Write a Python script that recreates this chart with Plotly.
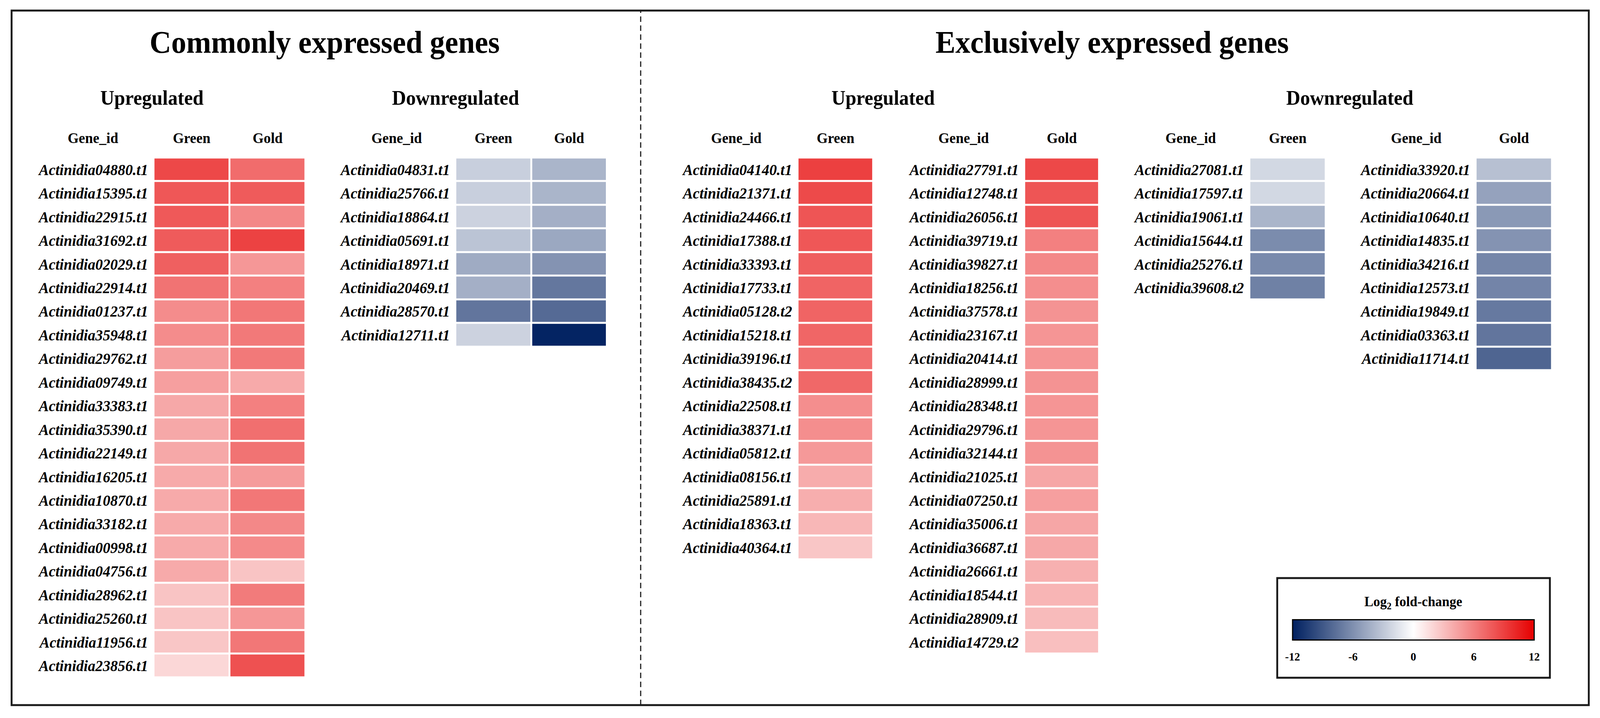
import plotly.graph_objects as go

W, H = 4278, 1837
FONT = "Liberation Serif"

# ---------------- data ----------------
common_up_genes = ["Actinidia04880.t1", "Actinidia15395.t1", "Actinidia22915.t1", "Actinidia31692.t1",
                   "Actinidia02029.t1", "Actinidia22914.t1", "Actinidia01237.t1", "Actinidia35948.t1",
                   "Actinidia29762.t1", "Actinidia09749.t1", "Actinidia33383.t1", "Actinidia35390.t1",
                   "Actinidia22149.t1", "Actinidia16205.t1", "Actinidia10870.t1", "Actinidia33182.t1",
                   "Actinidia00998.t1", "Actinidia04756.t1", "Actinidia28962.t1", "Actinidia25260.t1",
                   "Actinidia11956.t1", "Actinidia23856.t1"]
common_up_green = [8.6, 7.9, 7.8, 7.7, 7.5, 6.6, 5.4, 5.4, 4.6, 4.5, 4.1, 4.1, 4.1, 4.0, 4.0, 4.0,
                   4.0, 4.0, 2.8, 2.8, 2.7, 1.9]
common_up_gold = [6.9, 7.7, 5.6, 8.9, 4.9, 6.0, 6.4, 6.3, 6.3, 4.0, 6.0, 6.8, 6.6, 4.7, 6.4, 5.6,
                  5.5, 2.8, 6.2, 4.9, 6.4, 8.2]

common_down_genes = ["Actinidia04831.t1", "Actinidia25766.t1", "Actinidia18864.t1", "Actinidia05691.t1",
                     "Actinidia18971.t1", "Actinidia20469.t1", "Actinidia28570.t1", "Actinidia12711.t1"]
common_down_green = [-2.6, -2.6, -2.4, -3.2, -4.5, -4.3, -7.4, -2.4]
common_down_gold = [-4.0, -4.0, -4.3, -4.7, -5.8, -7.3, -8.0, -11.8]

excl_up_green_genes = ["Actinidia04140.t1", "Actinidia21371.t1", "Actinidia24466.t1", "Actinidia17388.t1",
                       "Actinidia33393.t1", "Actinidia17733.t1", "Actinidia05128.t2", "Actinidia15218.t1",
                       "Actinidia39196.t1", "Actinidia38435.t2", "Actinidia22508.t1", "Actinidia38371.t1",
                       "Actinidia05812.t1", "Actinidia08156.t1", "Actinidia25891.t1", "Actinidia18363.t1",
                       "Actinidia40364.t1"]
excl_up_green = [9.0, 8.5, 8.0, 7.9, 7.6, 7.3, 7.3, 7.2, 6.8, 7.1, 5.3, 5.3, 4.8, 3.9, 3.8, 3.4, 2.7]

excl_up_gold_genes = ["Actinidia27791.t1", "Actinidia12748.t1", "Actinidia26056.t1", "Actinidia39719.t1",
                      "Actinidia39827.t1", "Actinidia18256.t1", "Actinidia37578.t1", "Actinidia23167.t1",
                      "Actinidia20414.t1", "Actinidia28999.t1", "Actinidia28348.t1", "Actinidia29796.t1",
                      "Actinidia32144.t1", "Actinidia21025.t1", "Actinidia07250.t1", "Actinidia35006.t1",
                      "Actinidia36687.t1", "Actinidia26661.t1", "Actinidia18544.t1", "Actinidia28909.t1",
                      "Actinidia14729.t2"]
excl_up_gold = [8.6, 8.0, 8.0, 6.0, 5.6, 5.3, 5.1, 5.0, 5.0, 5.1, 5.0, 5.0, 5.1, 4.2, 4.5, 4.2,
                4.1, 3.7, 3.5, 3.2, 3.0]

excl_down_green_genes = ["Actinidia27081.t1", "Actinidia17597.t1", "Actinidia19061.t1", "Actinidia15644.t1",
                         "Actinidia25276.t1", "Actinidia39608.t2"]
excl_down_green = [-2.1, -2.1, -4.0, -6.2, -6.3, -6.8]

excl_down_gold_genes = ["Actinidia33920.t1", "Actinidia20664.t1", "Actinidia10640.t1", "Actinidia14835.t1",
                        "Actinidia34216.t1", "Actinidia12573.t1", "Actinidia19849.t1", "Actinidia03363.t1",
                        "Actinidia11714.t1"]
excl_down_gold = [-3.4, -5.0, -5.5, -5.8, -6.5, -6.6, -7.2, -7.4, -8.3]

colorbar_ticks = [-12, -6, 0, 6, 12]

# ---------------- helpers ----------------
def px(x):
    return x / W

def py(y):
    return 1 - y / H

ROW = 60.45
TOP = 403.5

panels = [
    # genes, columns, values per column, x0, x1
    (common_up_genes, ["Green", "Gold"], [common_up_green, common_up_gold], 411, 817),
    (common_down_genes, ["Green", "Gold"], [common_down_green, common_down_gold], 1218, 1623),
    (excl_up_green_genes, ["Green"], [excl_up_green], 2133, 2335),
    (excl_up_gold_genes, ["Gold"], [excl_up_gold], 2739, 2939),
    (excl_down_green_genes, ["Green"], [excl_down_green], 3341, 3545),
    (excl_down_gold_genes, ["Gold"], [excl_down_gold], 3946, 4150),
]

fig = go.Figure()
layout_axes = {}
for i, (genes, cols, vals, x0, x1) in enumerate(panels):
    k = "" if i == 0 else str(i + 1)
    z = [[vals[c][r] for c in range(len(cols))] for r in range(len(genes))]
    fig.add_trace(go.Heatmap(
        z=z, x=cols, y=genes, coloraxis="coloraxis",
        xgap=5, ygap=5, xaxis="x" + k, yaxis="y" + k,
        hovertemplate="%{y}<br>%{x}: %{z}<extra></extra>",
    ))
    y0 = TOP
    y1 = TOP + ROW * len(genes)
    layout_axes["xaxis" + k] = dict(
        domain=[px(x0), px(x1)], anchor="y" + k, side="top",
        showgrid=False, zeroline=False, showline=False, ticks="",
        tickfont=dict(family=FONT, size=38, color="black", weight="bold"),
        ticklabelstandoff=29, fixedrange=True,
    )
    layout_axes["yaxis" + k] = dict(
        domain=[py(y1), py(y0)], anchor="x" + k, autorange="reversed",
        showgrid=False, zeroline=False, showline=False, ticks="",
        tickfont=dict(family=FONT, size=40, color="black", weight="bold", style="italic"),
        ticklabelstandoff=14, fixedrange=True,
    )

annotations = []
def add_text(text, x, y, size):
    annotations.append(dict(
        text=text, x=px(x), y=py(y), xref="paper", yref="paper",
        xanchor="center", yanchor="middle", showarrow=False,
        font=dict(family=FONT, size=size, color="black", weight="bold"),
    ))

add_text("Commonly expressed genes", 868, 108, 80)
add_text("Exclusively expressed genes", 2973, 108, 80)
add_text("Upregulated", 406, 251, 52)
add_text("Downregulated", 1218, 251, 52)
add_text("Upregulated", 2361, 251, 52)
add_text("Downregulated", 3609, 251, 52)
for gx in [248, 1060, 1968, 2576, 3183, 3786]:
    add_text("Gene_id", gx, 353, 38)
add_text("Log<sub>2</sub> fold-change", 3779, 1541, 36)

shapes = [
    dict(type="rect", xref="paper", yref="paper", x0=px(31), x1=px(4248), y0=py(1804), y1=py(27),
         line=dict(color="#1a1a1a", width=5)),
    dict(type="line", xref="paper", yref="paper", x0=px(1713), x1=px(1713), y0=py(1804), y1=py(27),
         line=dict(color="#1a1a1a", width=3, dash="14px,9px")),
    dict(type="rect", xref="paper", yref="paper", x0=px(3415), x1=px(4144), y0=py(1734), y1=py(1479),
         line=dict(color="#1a1a1a", width=5)),
]

fig.update_layout(
    width=W, height=H, margin=dict(l=0, r=0, t=0, b=0),
    paper_bgcolor="white", plot_bgcolor="white",
    showlegend=False,
    annotations=annotations, shapes=shapes,
    coloraxis=dict(
        cmin=-12, cmax=12,
        colorscale=[[0.0, "rgb(0,32,96)"], [0.5, "rgb(255,255,255)"], [1.0, "rgb(230,0,0)"]],
        colorbar=dict(
            orientation="h", x=px(3779), xanchor="center", y=py(1642), yanchor="middle",
            len=646, lenmode="pixels", thickness=52, thicknessmode="pixels",
            outlinewidth=3, outlinecolor="black",
            tickvals=colorbar_ticks, ticktext=[str(t) for t in colorbar_ticks],
            ticks="outside", ticklen=16, tickcolor="rgba(0,0,0,0)",
            tickfont=dict(family=FONT, size=30, color="black", weight="bold"),
            xpad=0, ypad=0, bgcolor="rgba(0,0,0,0)",
        ),
    ),
    **layout_axes,
)

# Fit the fixed-size figure into the actual browser viewport (which may be narrower
# than the requested window), so nothing is cut off at the right edge.
fit_js = """
var gd = document.getElementById('{plot_id}');
document.documentElement.style.margin = '0';
document.documentElement.style.overflow = 'hidden';
document.body.style.margin = '0';
document.body.style.padding = '0';
document.body.style.overflow = 'hidden';
var sx = window.innerWidth / %d, sy = window.innerHeight / %d;
if (Math.abs(sx - 1) > 0.001 || Math.abs(sy - 1) > 0.001) {
    gd.style.transformOrigin = '0 0';
    gd.style.transform = 'scale(' + sx + ',' + sy + ')';
}
""" % (W, H)

fig.write_html("out.html", post_script=fit_js, config={"displayModeBar": False})
